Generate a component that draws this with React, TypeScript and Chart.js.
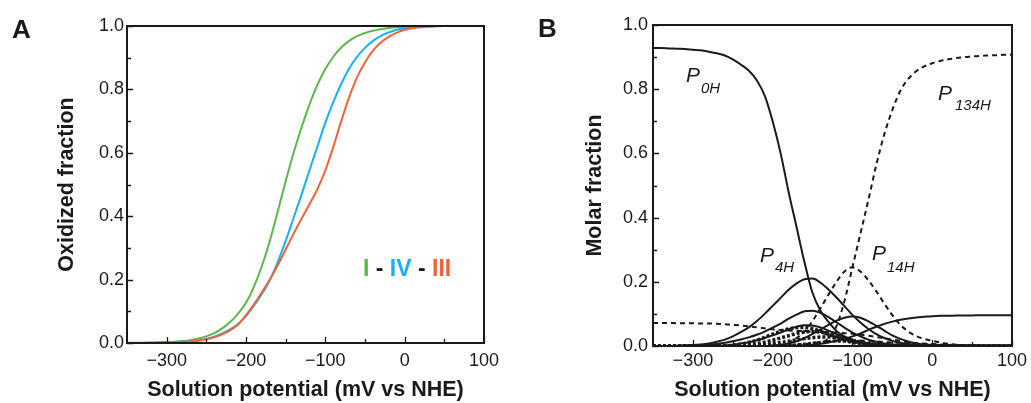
import React, { useEffect, useRef } from 'react';
import { Chart, registerables } from 'chart.js';
Chart.register(...registerables);

// ---------- shared axis data ----------
const potentials = [
  -350, -340, -330, -320, -310, -300, -290, -280, -270, -260,
  -250, -240, -230, -220, -210, -200, -190, -180, -170, -160,
  -150, -140, -130, -120, -110, -100, -90, -80, -70, -60,
  -50, -40, -30, -20, -10, 0, 10, 20, 30, 40,
  50, 60, 70, 80, 90, 100,
];
const xTickValues = [-300, -200, -100, 0, 100];
const xMinorValues = [-250, -150, -50, 50];
const yTickValues = [0, 0.2, 0.4, 0.6, 0.8, 1.0];
const yMinorValues = [0.1, 0.3, 0.5, 0.7, 0.9];

// ---------- panel A: oxidized fraction ----------
const fracI = [
  0, 0.001, 0.001, 0.001, 0.002, 0.003, 0.004, 0.006, 0.009, 0.014,
  0.021, 0.031, 0.046, 0.066, 0.093, 0.127, 0.178, 0.243, 0.322, 0.415,
  0.51, 0.6, 0.68, 0.752, 0.814, 0.864, 0.903, 0.932, 0.953, 0.968,
  0.978, 0.985, 0.99, 0.994, 0.996, 0.998, 0.999, 1, 1, 1,
  1, 1, 1, 1, 1, 1,
];
const fracIV = [
  0, 0, 0, 0.001, 0.001, 0.001, 0.002, 0.003, 0.005, 0.008,
  0.013, 0.02, 0.03, 0.043, 0.06, 0.085, 0.118, 0.155, 0.198, 0.255,
  0.322, 0.395, 0.468, 0.545, 0.62, 0.695, 0.76, 0.817, 0.866, 0.903,
  0.931, 0.953, 0.969, 0.98, 0.988, 0.993, 0.996, 0.998, 0.999, 1,
  1, 1, 1, 1, 1, 1,
];
const fracIII = [
  0, 0, 0, 0.001, 0.001, 0.001, 0.002, 0.003, 0.005, 0.008,
  0.012, 0.018, 0.027, 0.04, 0.058, 0.088, 0.122, 0.16, 0.2, 0.245,
  0.295, 0.345, 0.392, 0.438, 0.485, 0.545, 0.618, 0.7, 0.775, 0.838,
  0.885, 0.922, 0.948, 0.966, 0.979, 0.988, 0.993, 0.996, 0.998, 0.999,
  1, 1, 1, 1, 1, 1,
];

// ---------- panel B: molar fractions ----------
const p0H = [
  0.928, 0.928, 0.927, 0.926, 0.925, 0.923, 0.921, 0.917, 0.912, 0.905,
  0.893, 0.877, 0.858, 0.828, 0.78, 0.70, 0.60, 0.48, 0.37, 0.26,
  0.165, 0.11, 0.075, 0.047, 0.03, 0.02, 0.012, 0.007, 0.004, 0.002,
  0.001, 0, 0, 0, 0, 0, 0, 0, 0, 0,
  0, 0, 0, 0, 0, 0,
];
const p134H = [
  0, 0, 0, 0, 0, 0, 0, 0, 0, 0,
  0, 0, 0, 0, 0, 0, 0, 0, 0, 0.001,
  0.003, 0.008, 0.024, 0.062, 0.14, 0.245, 0.35, 0.455, 0.565, 0.66,
  0.735, 0.795, 0.832, 0.856, 0.871, 0.881, 0.888, 0.893, 0.897, 0.9,
  0.902, 0.904, 0.905, 0.906, 0.907, 0.907,
];
const p14H = [
  0, 0, 0, 0, 0, 0, 0, 0, 0, 0,
  0, 0, 0, 0, 0, 0, 0.003, 0.01, 0.025, 0.045,
  0.078, 0.118, 0.16, 0.2, 0.232, 0.245, 0.232, 0.205, 0.17, 0.132,
  0.096, 0.066, 0.045, 0.031, 0.022, 0.016, 0.011, 0.007, 0.004, 0.002,
  0.001, 0, 0, 0, 0, 0,
];
const pDashLow = [
  0.072, 0.072, 0.072, 0.071, 0.071, 0.071, 0.07, 0.07, 0.069, 0.068,
  0.066, 0.064, 0.061, 0.058, 0.055, 0.052, 0.05, 0.048, 0.047, 0.046,
  0.045, 0.044, 0.043, 0.042, 0.04, 0.038, 0.035, 0.032, 0.028, 0.024,
  0.02, 0.016, 0.012, 0.009, 0.007, 0.005, 0.003, 0.002, 0.001, 0,
  0, 0, 0, 0, 0, 0,
];
const pDashTail = [
  0, 0, 0, 0, 0, 0, 0, 0, 0, 0,
  0, 0, 0, 0, 0, 0, 0.001, 0.002, 0.004, 0.006,
  0.009, 0.012, 0.015, 0.017, 0.018, 0.018, 0.017, 0.016, 0.014, 0.013,
  0.011, 0.01, 0.009, 0.008, 0.007, 0.006, 0.005, 0.004, 0.003, 0.002,
  0.001, 0.001, 0, 0, 0, 0,
];
const p4H = [
  0, 0, 0, 0.001, 0.002, 0.003, 0.005, 0.008, 0.013, 0.02,
  0.03, 0.043, 0.058, 0.077, 0.1, 0.125, 0.15, 0.175, 0.195, 0.208,
  0.21, 0.197, 0.176, 0.151, 0.124, 0.097, 0.073, 0.053, 0.037, 0.025,
  0.016, 0.01, 0.006, 0.004, 0.002, 0.001, 0, 0, 0, 0,
  0, 0, 0, 0, 0, 0,
];
const pSolid2 = [
  0, 0, 0, 0, 0.001, 0.002, 0.003, 0.004, 0.006, 0.01,
  0.015, 0.02, 0.027, 0.035, 0.045, 0.057, 0.07, 0.085, 0.098, 0.108,
  0.11, 0.103, 0.09, 0.074, 0.057, 0.042, 0.03, 0.02, 0.013, 0.008,
  0.005, 0.003, 0.002, 0.001, 0, 0, 0, 0, 0, 0,
  0, 0, 0, 0, 0, 0,
];
const pSolid3 = [
  0, 0, 0, 0, 0, 0, 0, 0, 0, 0,
  0, 0, 0, 0, 0, 0.002, 0.004, 0.008, 0.015, 0.025,
  0.038, 0.052, 0.066, 0.079, 0.088, 0.092, 0.088, 0.077, 0.063, 0.048,
  0.033, 0.022, 0.014, 0.008, 0.005, 0.003, 0.001, 0, 0, 0,
  0, 0, 0, 0, 0, 0,
];
const pSolid4 = [
  0, 0, 0, 0, 0, 0, 0, 0, 0, 0,
  0, 0, 0, 0, 0, 0, 0, 0, 0.001, 0.002,
  0.004, 0.007, 0.011, 0.016, 0.022, 0.03, 0.039, 0.05, 0.06, 0.069,
  0.076, 0.082, 0.086, 0.089, 0.091, 0.093, 0.094, 0.094, 0.095, 0.095,
  0.095, 0.096, 0.096, 0.096, 0.096, 0.096,
];
const pSolid5 = [
  0, 0, 0, 0, 0, 0, 0, 0, 0, 0.002,
  0.004, 0.008, 0.012, 0.018, 0.025, 0.033, 0.042, 0.052, 0.06, 0.065,
  0.064, 0.058, 0.048, 0.037, 0.027, 0.019, 0.012, 0.008, 0.005, 0.003,
  0.001, 0, 0, 0, 0, 0, 0, 0, 0, 0,
  0, 0, 0, 0, 0, 0,
];
const pDot1 = [
  0, 0, 0, 0, 0, 0, 0, 0, 0, 0,
  0.003, 0.006, 0.011, 0.018, 0.027, 0.037, 0.046, 0.053, 0.057, 0.058,
  0.054, 0.046, 0.036, 0.026, 0.018, 0.011, 0.007, 0.004, 0.002, 0.001,
  0, 0, 0, 0, 0, 0, 0, 0, 0, 0,
  0, 0, 0, 0, 0, 0,
];
const pDot2 = [
  0, 0, 0, 0, 0, 0, 0, 0, 0, 0,
  0, 0.002, 0.004, 0.007, 0.012, 0.018, 0.025, 0.032, 0.039, 0.044,
  0.045, 0.043, 0.037, 0.03, 0.022, 0.015, 0.01, 0.006, 0.003, 0.001,
  0, 0, 0, 0, 0, 0, 0, 0, 0, 0,
  0, 0, 0, 0, 0, 0,
];
const pDot3 = [
  0, 0, 0, 0, 0, 0, 0, 0, 0, 0,
  0, 0, 0, 0.002, 0.004, 0.007, 0.011, 0.015, 0.019, 0.023,
  0.026, 0.028, 0.028, 0.026, 0.022, 0.017, 0.012, 0.008, 0.005, 0.003,
  0.001, 0, 0, 0, 0, 0, 0, 0, 0, 0,
  0, 0, 0, 0, 0, 0,
];
const pDot4 = [
  0, 0, 0, 0, 0, 0, 0, 0, 0, 0,
  0, 0, 0, 0, 0, 0, 0.001, 0.002, 0.004, 0.006,
  0.009, 0.012, 0.014, 0.015, 0.015, 0.013, 0.011, 0.008, 0.006, 0.004,
  0.002, 0.001, 0, 0, 0, 0, 0, 0, 0, 0,
  0, 0, 0, 0, 0, 0,
];

const FONT = "Arial, 'Liberation Sans', Helvetica, sans-serif";
const INK = '#1a1a1a';
const GREEN = '#5cb84a';
const BLUE = '#18b0f2';
const RED = '#f2623a';

const toPoints = (ys: number[]) => potentials.map((x, i) => ({ x, y: ys[i] }));
const fmtX = (v: number) => (v < 0 ? '\u2212' + Math.abs(v) : String(v));

function line(ys: number[], color: string, width: number, dash: number[] = []) {
  return {
    data: toPoints(ys),
    borderColor: color,
    borderWidth: width,
    borderDash: dash,
    pointRadius: 0,
    fill: false,
    cubicInterpolationMode: 'monotone' as const,
  };
}

function framePlugin(extraDraw: (ctx: CanvasRenderingContext2D) => void) {
  return {
    id: 'frameTicks',
    afterDatasetsDraw(chart: any) {
      const { ctx, chartArea: a, scales } = chart;
      const x = scales.x;
      const y = scales.y;
      ctx.save();
      ctx.strokeStyle = INK;
      ctx.lineWidth = 2;
      ctx.strokeRect(a.left, a.top, a.right - a.left, a.bottom - a.top);
      ctx.lineWidth = 1.3;
      ctx.beginPath();
      for (const v of xTickValues) {
        const px = Math.round(x.getPixelForValue(v)) + 0.5;
        ctx.moveTo(px, a.bottom);
        ctx.lineTo(px, a.bottom - 6);
      }
      for (const v of xMinorValues) {
        const px = Math.round(x.getPixelForValue(v)) + 0.5;
        ctx.moveTo(px, a.bottom);
        ctx.lineTo(px, a.bottom - 4);
      }
      for (const v of yTickValues) {
        const py = Math.round(y.getPixelForValue(v)) + 0.5;
        ctx.moveTo(a.left, py);
        ctx.lineTo(a.left + 6, py);
      }
      for (const v of yMinorValues) {
        const py = Math.round(y.getPixelForValue(v)) + 0.5;
        ctx.moveTo(a.left, py);
        ctx.lineTo(a.left + 4, py);
      }
      ctx.stroke();
      extraDraw(ctx);
      ctx.restore();
    },
  };
}

function baseOptions(opts: {
  yTitle: string;
  yWidth: number;
  xHeight: number;
  top: number;
  right: number;
  yPad: number;
  xPad: number;
  yTitlePad: number;
}) {
  return {
    responsive: false,
    animation: false as const,
    events: [] as any[],
    layout: { padding: { top: opts.top, right: opts.right, left: 0, bottom: 0 } },
    plugins: { legend: { display: false }, tooltip: { enabled: false } },
    scales: {
      x: {
        type: 'linear' as const,
        min: -350,
        max: 100,
        grid: { display: false, drawTicks: false },
        border: { display: false },
        afterBuildTicks: (s: any) => {
          s.ticks = xTickValues.map((v) => ({ value: v }));
        },
        afterFit: (s: any) => {
          s.height = opts.xHeight;
        },
        ticks: {
          padding: opts.xPad,
          color: INK,
          font: { family: FONT, size: 18 },
          maxRotation: 0,
          autoSkip: false,
          callback: (v: any) => fmtX(Number(v)),
        },
        title: {
          display: true,
          text: 'Solution potential (mV vs NHE)',
          color: INK,
          font: { family: FONT, size: 21.5, weight: 'bold' as const },
          padding: { top: 0, bottom: 0 },
        },
      },
      y: {
        type: 'linear' as const,
        min: 0,
        max: 1,
        grid: { display: false, drawTicks: false },
        border: { display: false },
        afterBuildTicks: (s: any) => {
          s.ticks = yTickValues.map((v) => ({ value: v }));
        },
        afterFit: (s: any) => {
          s.width = opts.yWidth;
        },
        ticks: {
          padding: opts.yPad,
          color: INK,
          font: { family: FONT, size: 18 },
          callback: (v: any) => Number(v).toFixed(1),
        },
        title: {
          display: true,
          text: opts.yTitle,
          color: INK,
          font: { family: FONT, size: 21.5, weight: 'bold' as const },
          padding: { top: opts.yTitlePad, bottom: 0 },
        },
      },
    },
  };
}

function buildA(): any {
  return {
    type: 'line',
    data: {
      datasets: [
        line(fracIII, RED, 2),
        line(fracIV, BLUE, 2),
        line(fracI, GREEN, 2),
      ],
    },
    options: baseOptions({
      yTitle: 'Oxidized fraction',
      yWidth: 127,
      xHeight: 60,
      top: 26,
      right: 36,
      yPad: 3,
      xPad: 7,
      yTitlePad: 54,
    }),
    plugins: [
      framePlugin((ctx) => {
        ctx.textBaseline = 'alphabetic';
        ctx.textAlign = 'left';
        ctx.fillStyle = INK;
        ctx.font = `bold 26px ${FONT}`;
        ctx.fillText('A', 12, 38);
        ctx.font = `bold 23px ${FONT}`;
        const parts: [string, string][] = [
          ['I', GREEN],
          [' - ', INK],
          ['IV', BLUE],
          [' - ', INK],
          ['III', RED],
        ];
        let x = 363;
        for (const [t, c] of parts) {
          ctx.fillStyle = c;
          ctx.fillText(t, x, 276);
          x += ctx.measureText(t).width;
        }
      }),
    ],
  };
}

function drawP(ctx: CanvasRenderingContext2D, x: number, base: number, sub: string, subX: number, subBase: number) {
  ctx.font = `italic 21px ${FONT}`;
  ctx.fillText('P', x, base);
  ctx.font = `italic 15px ${FONT}`;
  ctx.fillText(sub, subX, subBase);
}

function buildB(): any {
  const dash = [5, 4];
  const dot = [3, 2];
  return {
    type: 'line',
    data: {
      datasets: [
        line(pDot1, INK, 3.5, dot),
        line(pDot2, INK, 3.5, dot),
        line(pDot3, INK, 3.5, dot),
        line(pDot4, INK, 3, dot),
        line(pDashTail, INK, 2, dash),
        line(pSolid5, INK, 2),
        line(pSolid4, INK, 2),
        line(pSolid3, INK, 2),
        line(pSolid2, INK, 2),
        line(p4H, INK, 2),
        line(pDashLow, INK, 2, dash),
        line(p14H, INK, 2, dash),
        line(p134H, INK, 2, dash),
        line(p0H, INK, 2),
      ],
    },
    options: baseOptions({
      yTitle: 'Molar fraction',
      yWidth: 133,
      xHeight: 57,
      top: 25,
      right: 17,
      yPad: 5,
      xPad: 4,
      yTitlePad: 62,
    }),
    plugins: [
      framePlugin((ctx) => {
        ctx.textBaseline = 'alphabetic';
        ctx.textAlign = 'left';
        ctx.fillStyle = INK;
        ctx.font = `bold 26px ${FONT}`;
        ctx.fillText('B', 18, 37);
        drawP(ctx, 166, 82, '0H', 181, 93);
        drawP(ctx, 418, 100, '134H', 435, 110);
        drawP(ctx, 240, 261.5, '4H', 255, 272);
        drawP(ctx, 352, 260, '14H', 367, 272);
      }),
    ],
  };
}

function Panel({ left, width, build }: { left: number; width: number; build: () => any }) {
  const ref = useRef<HTMLCanvasElement>(null);
  useEffect(() => {
    const chart = new Chart(ref.current as HTMLCanvasElement, build());
    return () => chart.destroy();
  }, []);
  return (
    <canvas
      ref={ref}
      width={width}
      height={403}
      style={{ position: 'absolute', left, top: 0, width, height: 403, display: 'block' }}
    />
  );
}

export default function App() {
  return (
    <div style={{ position: 'absolute', left: 0, top: 0, width: 1031, height: 403, background: '#fff', overflow: 'hidden' }}>
      <Panel left={0} width={520} build={buildA} />
      <Panel left={520} width={511} build={buildB} />
    </div>
  );
}
